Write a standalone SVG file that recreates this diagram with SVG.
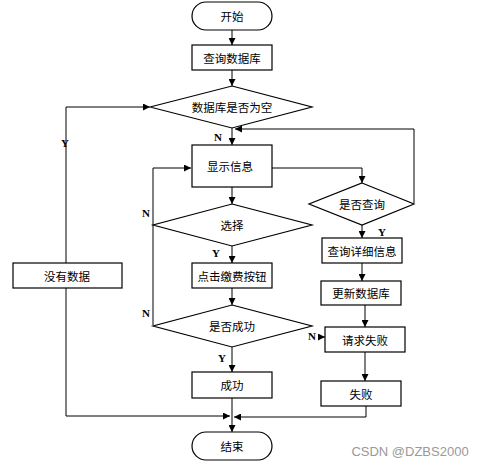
<svg xmlns="http://www.w3.org/2000/svg" width="483" height="465" viewBox="0 0 483 465">
<defs>
<marker id="ah" viewBox="0 0 10 10" refX="10" refY="5" markerWidth="7" markerHeight="7" markerUnits="userSpaceOnUse" orient="auto">
<path d="M0,0 L10,5 L0,10 z" fill="#000"/>
</marker>
</defs>
<style>
.box{fill:#fff;stroke:#000;stroke-width:1.2}
.t{font-family:"Noto Sans CJK SC","Liberation Serif",serif;font-size:11.5px;fill:#000;text-anchor:middle;dominant-baseline:central}
.lb{font-family:"Liberation Serif",serif;font-size:11px;font-weight:bold;fill:#000;text-anchor:middle;dominant-baseline:central}
.c{fill:none;stroke:#000;stroke-width:1}
.ca{fill:none;stroke:#000;stroke-width:1;marker-end:url(#ah)}
</style>
<rect width="483" height="465" fill="#fff"/>
<g id="connectors">
<path class="ca" d="M232,30 V45"/>
<path class="ca" d="M232,70 V86"/>
<path class="ca" d="M232,128 V145"/>
<path class="ca" d="M414,203 V129 H235"/>
<path class="ca" d="M272,168 H362 V183"/>
<path class="ca" d="M362,225 V238"/>
<path class="ca" d="M362,263 V281"/>
<path class="ca" d="M365,305 V327"/>
<path class="ca" d="M365,352 V381"/>
<path class="ca" d="M366,406 V417 H234"/>
<path class="ca" d="M66,263 V107 H150"/>
<path class="ca" d="M66,288 V416 H230"/>
<path class="ca" d="M232,187 V204"/>
<path class="ca" d="M232,246 V263"/>
<path class="ca" d="M232,288 V305"/>
<path class="ca" d="M232,347 V372"/>
<path class="ca" d="M232,398 V432"/>
<path class="ca" d="M153,325 V168 H191"/>
<path class="ca" d="M318,337 H325"/>
<text class="lb" x="218" y="137">N</text>
<text class="lb" x="65" y="143">Y</text>
<text class="lb" x="382" y="232">Y</text>
<text class="lb" x="146" y="213">N</text>
<text class="lb" x="216" y="253">Y</text>
<text class="lb" x="146" y="313">N</text>
<text class="lb" x="222" y="358">Y</text>
<text class="lb" x="312" y="336">N</text>
</g>
<g id="start"><rect class="box" x="192" y="2" width="80" height="28" rx="14"/><text class="t" x="232" y="16">开始</text></g>
<g id="query-db"><rect class="box" x="192" y="45" width="80" height="25"/><text class="t" x="232" y="57.5">查询数据库</text></g>
<g id="db-empty"><path class="box" d="M232,86 L312,107 L232,128 L150,107 Z"/><text class="t" x="232" y="107">数据库是否为空</text></g>
<g id="show-info"><rect class="box" x="192" y="145" width="80" height="42"/><text class="t" x="230" y="166">显示信息</text></g>
<g id="is-query"><path class="box" d="M362,183 L414,204 L362,225 L309,204 Z"/><text class="t" x="362" y="204">是否查询</text></g>
<g id="query-detail"><rect class="box" x="322" y="238" width="80" height="25"/><text class="t" x="362" y="250.5">查询详细信息</text></g>
<g id="update-db"><rect class="box" x="321" y="281" width="80" height="24"/><text class="t" x="361" y="293">更新数据库</text></g>
<g id="request-fail"><rect class="box" x="325" y="327" width="80" height="25"/><text class="t" x="365" y="339.5">请求失败</text></g>
<g id="fail"><rect class="box" x="321" y="381" width="80" height="25"/><text class="t" x="361" y="393.5">失败</text></g>
<g id="no-data"><rect class="box" x="13" y="263" width="109" height="25"/><text class="t" x="67" y="275.5">没有数据</text></g>
<g id="choose"><path class="box" d="M232,204 L312,225 L232,246 L153,225 Z"/><text class="t" x="232" y="225">选择</text></g>
<g id="click-pay"><rect class="box" x="192" y="263" width="80" height="25"/><text class="t" x="232" y="275.5">点击缴费按钮</text></g>
<g id="is-success"><path class="box" d="M232,305 L312,326 L232,347 L153,326 Z"/><text class="t" x="232" y="326">是否成功</text></g>
<g id="success"><rect class="box" x="192" y="372" width="80" height="26"/><text class="t" x="232" y="385">成功</text></g>
<g id="end"><rect class="box" x="192" y="432" width="80" height="28" rx="14"/><text class="t" x="232" y="446">结束</text></g>
<text x="410" y="451" font-family="Liberation Sans, Arial, sans-serif" font-size="13" fill="#999" text-anchor="middle" dominant-baseline="central">CSDN @DZBS2000</text>
</svg>
